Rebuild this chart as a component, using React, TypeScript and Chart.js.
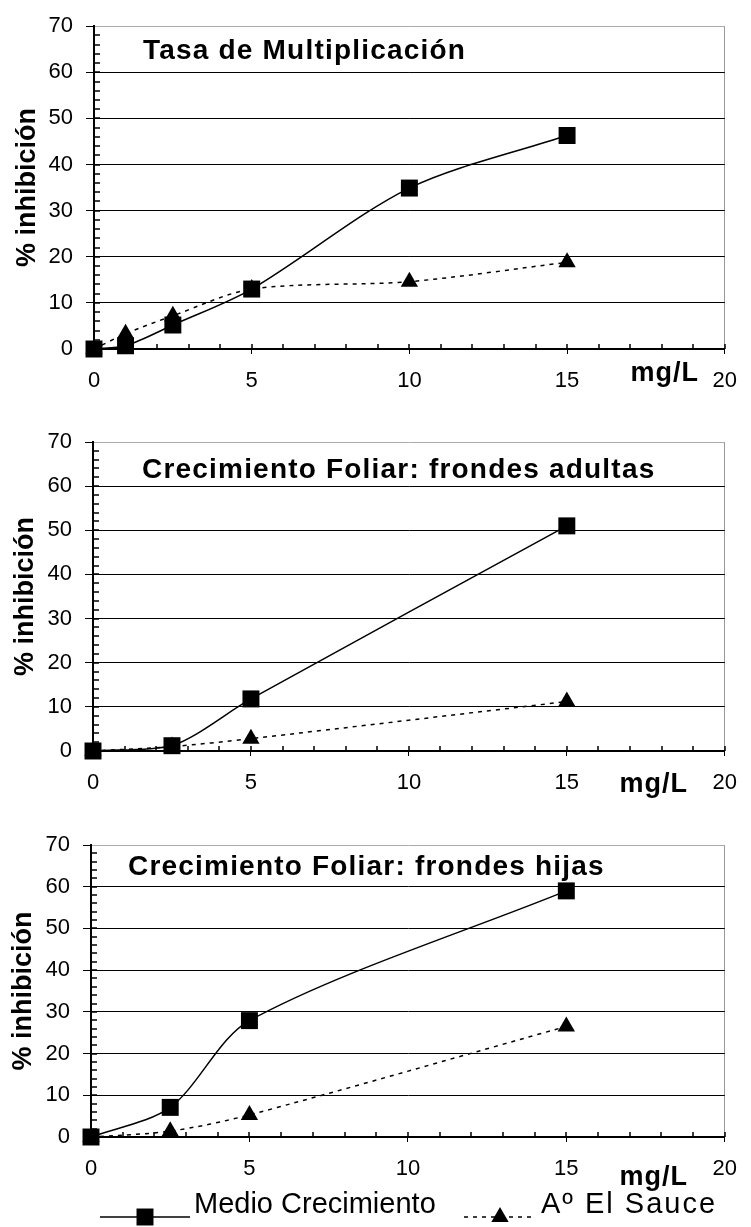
import React, { useEffect, useRef } from 'react';
import { Chart, registerables } from 'chart.js';
import { drawPoint } from 'chart.js/helpers';
Chart.register(...registerables);

// ---------- data ----------
const SERIES_NAMES = ['Medio Crecimiento', 'Aº El Sauce'];
const Y_TITLE = '% inhibición';
const X_UNIT = 'mg/L';
const X_MIN = 0, X_MAX = 20, X_STEP = 5, X_MINOR = 1;
const Y_MIN = 0, Y_MAX = 70, Y_STEP = 10, Y_MINOR = 2;

const TASA_TITLE = 'Tasa de Multiplicación';
const TASA_X = [0, 1, 2.5, 5, 10, 15];
const TASA_MEDIO = [0, 0.7, 5.2, 13.0, 34.9, 46.3];
const TASA_SAUCE = [0, 3.3, 7.2, 13.0, 14.6, 18.8];

const ADULTAS_TITLE = 'Crecimiento Foliar: frondes adultas';
const ADULTAS_X = [0, 2.5, 5, 15];
const ADULTAS_MEDIO = [0, 1.2, 11.8, 51.0];
const ADULTAS_SAUCE = [0, 1.0, 2.8, 11.2];

const HIJAS_TITLE = 'Crecimiento Foliar: frondes hijas';
const HIJAS_X = [0, 2.5, 5, 15];
const HIJAS_MEDIO = [0, 7.1, 27.9, 59.0];
const HIJAS_SAUCE = [0, 1.4, 5.3, 26.5];

// ---------- layout / style ----------
const FONT = '"Liberation Sans", Arial, Helvetica, sans-serif';
const W = 751;

type Panel = {
  top: number; height: number; padTop: number; padRight: number; xH: number; yW: number;
  yTitlePad: number; titleX: number; titleDy: number; unitDx: number; unitDy: number;
  legend: boolean; title: string; xs: number[]; medio: number[]; sauce: number[];
};

const PANELS: Panel[] = [
  { top: 0, height: 400, padTop: 26, padRight: 18, xH: 51, yW: 94, yTitlePad: 11, titleX: 143, titleDy: 25, unitDx: 60, unitDy: 32, legend: false, title: TASA_TITLE, xs: TASA_X, medio: TASA_MEDIO, sauce: TASA_SAUCE },
  { top: 400, height: 405, padTop: 42, padRight: 19, xH: 54, yW: 93, yTitlePad: 9, titleX: 142, titleDy: 28, unitDx: 71, unitDy: 41, legend: false, title: ADULTAS_TITLE, xs: ADULTAS_X, medio: ADULTAS_MEDIO, sauce: ADULTAS_SAUCE },
  { top: 805, height: 422, padTop: 40, padRight: 18, xH: 90, yW: 91, yTitlePad: 7, titleX: 128, titleDy: 22, unitDx: 71, unitDy: 48, legend: true, title: HIJAS_TITLE, xs: HIJAS_X, medio: HIJAS_MEDIO, sauce: HIJAS_SAUCE },
];

const LEGEND_Y = 412; // canvas y inside last panel
const LEGEND_ITEMS = [
  { x0: 100, x1: 190, mx: 145, tx: 194, spacing: '0px' },
  { x0: 464, x1: 534, mx: 500, tx: 541, spacing: '2px' },
];

function makeDeco(p: Panel) {
  return {
    id: 'deco',
    beforeDatasetsDraw(chart: any) {
      const { ctx, chartArea: a, scales } = chart;
      const xs = scales.x, ys = scales.y;
      ctx.save();
      ctx.strokeStyle = '#000';
      ctx.lineWidth = 1.5;
      ctx.beginPath();
      for (let v = X_MIN + X_MINOR; v <= X_MAX; v += X_MINOR) {
        const px = Math.round(xs.getPixelForValue(v));
        ctx.moveTo(px, a.bottom);
        ctx.lineTo(px, a.bottom - 5);
      }
      for (let v = Y_MIN + Y_MINOR; v < Y_MAX; v += Y_MINOR) {
        const py = Math.round(ys.getPixelForValue(v));
        ctx.moveTo(a.left, py);
        ctx.lineTo(a.left + 6, py);
      }
      ctx.stroke();

      ctx.fillStyle = '#000';
      ctx.font = `bold 28px ${FONT}`;
      ctx.letterSpacing = '1.2px';
      ctx.textAlign = 'left';
      ctx.textBaseline = 'middle';
      ctx.fillText(p.title, p.titleX, a.top + p.titleDy);

      ctx.font = `bold 27px ${FONT}`;
      ctx.letterSpacing = '1px';
      ctx.textAlign = 'center';
      ctx.textBaseline = 'alphabetic';
      ctx.fillText(X_UNIT, a.right - p.unitDx, a.bottom + p.unitDy);
      ctx.letterSpacing = '0px';
      ctx.restore();
    },
    afterDraw(chart: any) {
      if (!p.legend) return;
      const { ctx } = chart;
      const ds = chart.data.datasets;
      LEGEND_ITEMS.forEach((it, i) => {
        const d = ds[i];
        ctx.save();
        ctx.strokeStyle = d.borderColor;
        ctx.lineWidth = d.borderWidth;
        ctx.setLineDash(d.borderDash || []);
        ctx.beginPath();
        ctx.moveTo(it.x0, LEGEND_Y);
        ctx.lineTo(it.x1, LEGEND_Y);
        ctx.stroke();
        ctx.setLineDash([]);
        ctx.fillStyle = d.pointBackgroundColor;
        drawPoint(ctx, { pointStyle: d.pointStyle, radius: d.pointRadius, rotation: 0, borderWidth: 0 } as any, it.mx, LEGEND_Y);
        ctx.fillStyle = '#000';
        ctx.font = `29px ${FONT}`;
        ctx.letterSpacing = it.spacing;
        ctx.textAlign = 'left';
        ctx.textBaseline = 'alphabetic';
        ctx.fillText(d.label, it.tx, LEGEND_Y - 4);
        ctx.letterSpacing = '0px';
        ctx.restore();
      });
    },
  };
}

function PanelChart({ p }: { p: Panel }) {
  const ref = useRef<HTMLCanvasElement>(null);
  useEffect(() => {
    const chart = new Chart(ref.current as HTMLCanvasElement, {
      type: 'line',
      data: {
        datasets: [
          {
            label: SERIES_NAMES[0],
            data: p.xs.map((x, i) => ({ x, y: p.medio[i] })),
            borderColor: '#000',
            backgroundColor: '#000',
            borderWidth: 1.5,
            pointStyle: 'rect',
            pointRadius: 12,
            pointBackgroundColor: '#000',
            pointBorderWidth: 0,
            tension: 0.3,
            clip: false as any,
          },
          {
            label: SERIES_NAMES[1],
            data: p.xs.map((x, i) => ({ x, y: p.sauce[i] })),
            borderColor: '#000',
            backgroundColor: '#000',
            borderWidth: 1.5,
            borderDash: [4, 5],
            pointStyle: 'triangle',
            pointRadius: 10,
            pointBackgroundColor: '#000',
            pointBorderWidth: 0,
            tension: 0.3,
            clip: false as any,
          },
        ],
      },
      options: {
        responsive: false,
        animation: false,
        events: [],
        layout: { padding: { top: p.padTop, right: p.padRight, left: 0, bottom: 0 }, autoPadding: false } as any,
        plugins: { legend: { display: false }, tooltip: { enabled: false }, title: { display: false } },
        scales: {
          x: {
            type: 'linear',
            min: X_MIN,
            max: X_MAX,
            ticks: { stepSize: X_STEP, color: '#000', font: { size: 22, family: FONT }, padding: 14, maxRotation: 0, autoSkip: false },
            grid: {
              color: (c: any) => (c.tick && c.tick.value === X_MAX ? '#999' : 'rgba(0,0,0,0)'),
              tickColor: '#000',
              tickLength: 5,
              lineWidth: 1,
            },
            border: { color: '#000', width: 2 },
            afterFit: (s: any) => { s.height = p.xH; },
          },
          y: {
            type: 'linear',
            min: Y_MIN,
            max: Y_MAX,
            ticks: { stepSize: Y_STEP, color: '#000', font: { size: 22, family: FONT }, padding: 13 },
            grid: {
              color: (c: any) => (c.tick && c.tick.value === Y_MAX ? '#aaa' : '#000'),
              tickColor: '#000',
              tickLength: 8,
              lineWidth: 1,
            },
            border: { color: '#000', width: 2 },
            title: {
              display: true,
              text: Y_TITLE,
              color: '#000',
              font: { size: 27, weight: 'bold', family: FONT },
              padding: { top: p.yTitlePad, bottom: 0 },
            },
            afterFit: (s: any) => { s.width = p.yW; },
          },
        },
      } as any,
      plugins: [makeDeco(p) as any],
    });
    return () => chart.destroy();
  }, []);
  return (
    <div style={{ position: 'absolute', left: 0, top: p.top, width: W, height: p.height }}>
      <canvas ref={ref} width={W} height={p.height} style={{ display: 'block' }} />
    </div>
  );
}

export default function App() {
  return (
    <div style={{ position: 'absolute', left: 0, top: 0, width: W, height: 1227, background: '#fff' }}>
      {PANELS.map((p, i) => (
        <PanelChart key={i} p={p} />
      ))}
    </div>
  );
}
